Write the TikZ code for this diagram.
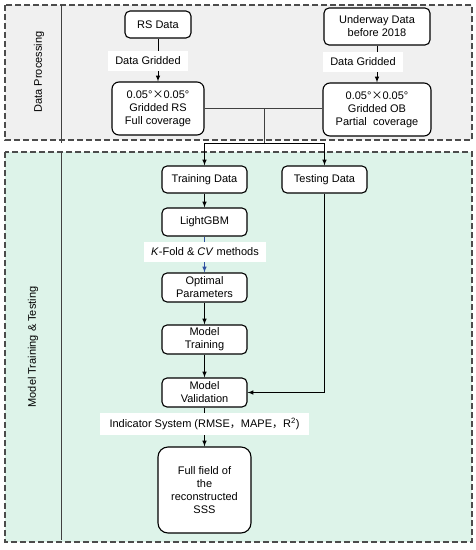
\documentclass[tikz,border=0pt]{standalone}
\usepackage{fontspec}
\setmainfont{Liberation Sans}
\newfontfamily\cjk{Noto Sans CJK SC}
\definecolor{grauhg}{HTML}{F0F0F0}
\definecolor{minthg}{HTML}{DDF3E9}
\definecolor{blau}{HTML}{2F4FA0}
\begin{document}
\begin{tikzpicture}[x=1pt,y=-1pt,>=latex,line width=1pt,font=\fontsize{11}{13}\selectfont,
		kasten/.style={draw, line width=1.1pt, rounded corners=5pt, fill=white, align=center, inner sep=1pt, minimum width=85pt, minimum height=28pt},
		etikett/.style={fill=white, inner sep=0pt, minimum height=20pt},
		bereich/.style={draw=black!70, line width=1.4pt, dash pattern=on 6pt off 3pt}]
		% Hintergrund und Bereiche
		\fill [white] (0,0) rectangle (476,550);
		\useasboundingbox (0,0) rectangle (476,550);
		\draw [bereich, fill=grauhg] (5,5) rectangle (472,140);
		\draw [bereich, fill=minthg] (5,152) rectangle (472,542);
		\draw [black!75, line width=0.8pt] (61,5) -- (61,143);
		\draw [black!75, line width=0.8pt] (61,152) -- (61,540);
		\node [rotate=90] (dp) at (39,72) {Data Processing};
		\node [rotate=90] (mtt) at (33,347) {Model Training \& Testing};
		% Datenaufbereitung
		\node [kasten, minimum width=66pt, minimum height=27pt] (rs) at (158,24.5) {RS Data};
		\node [kasten, minimum width=106pt, minimum height=37pt] (uw) at (377,26.5) {Underway Data\\before 2018};
		\node [kasten, minimum width=92pt, minimum height=53pt, rounded corners=7pt] (grs) at (158,108.5) {0.05°{\cjk ×}0.05°\\Gridded RS\\Full coverage};
		\node [kasten, minimum width=108pt, minimum height=53pt, rounded corners=7pt] (gob) at (377,109.5) {0.05°{\cjk ×}0.05°\\Gridded OB\\Partial~ coverage};
		% Training und Test
		\node [kasten, minimum height=27pt] (train) at (204.5,179.5) {Training Data};
		\node [kasten, minimum height=27pt] (test) at (324.5,179.5) {Testing Data};
		\node [kasten] (lgbm) at (204.5,222) {LightGBM};
		\node [kasten, minimum height=29pt] (opt) at (204.5,287.5) {Optimal\\Parameters};
		\node [kasten, minimum height=29pt] (mtrain) at (204.5,339.5) {Model\\Training};
		\node [kasten, minimum height=29pt] (mval) at (204.5,392.5) {Model\\Validation};
		\node [kasten, minimum width=93pt, minimum height=86pt, rounded corners=10pt] (feld) at (204.5,490) {Full field of\\the\\reconstructed\\SSS};
		% Verbindungen
		\draw [->] (rs) -- (grs);
		\draw [->] (uw) -- (gob);
		\draw [black!75] (grs.east) -- (grs.east -| gob.west);
		\coordinate (knick) at (264,143);
		\draw [black!75] (knick |- grs.east) -- (knick);
		\draw [->] (knick) -| (train);
		\draw [->] (knick) -| (test);
		\draw [->] (train) -- (lgbm);
		\draw [->, blau] (lgbm) -- (opt);
		\draw [->] (opt) -- (mtrain);
		\draw [->] (mtrain) -- (mval);
		\draw [->] (test) |- (mval);
		\draw [->] (mval) -- (feld);
		% Beschriftungen auf den Pfeilen
		\node [etikett, minimum width=80pt] (dg1) at (148,61) {Data Gridded};
		\node [etikett, minimum width=80pt] (dg2) at (363,62) {Data Gridded};
		\node [etikett, minimum width=122pt] (kf) at (205,251.5) {\textit{K}-Fold \& \textit{CV} methods};
		\node [etikett, minimum width=209pt, minimum height=22pt] (ind) at (204.5,424) {Indicator System (RMSE{\cjk ，}MAPE{\cjk ，}R\textsuperscript{2})};
\end{tikzpicture}
\end{document}
